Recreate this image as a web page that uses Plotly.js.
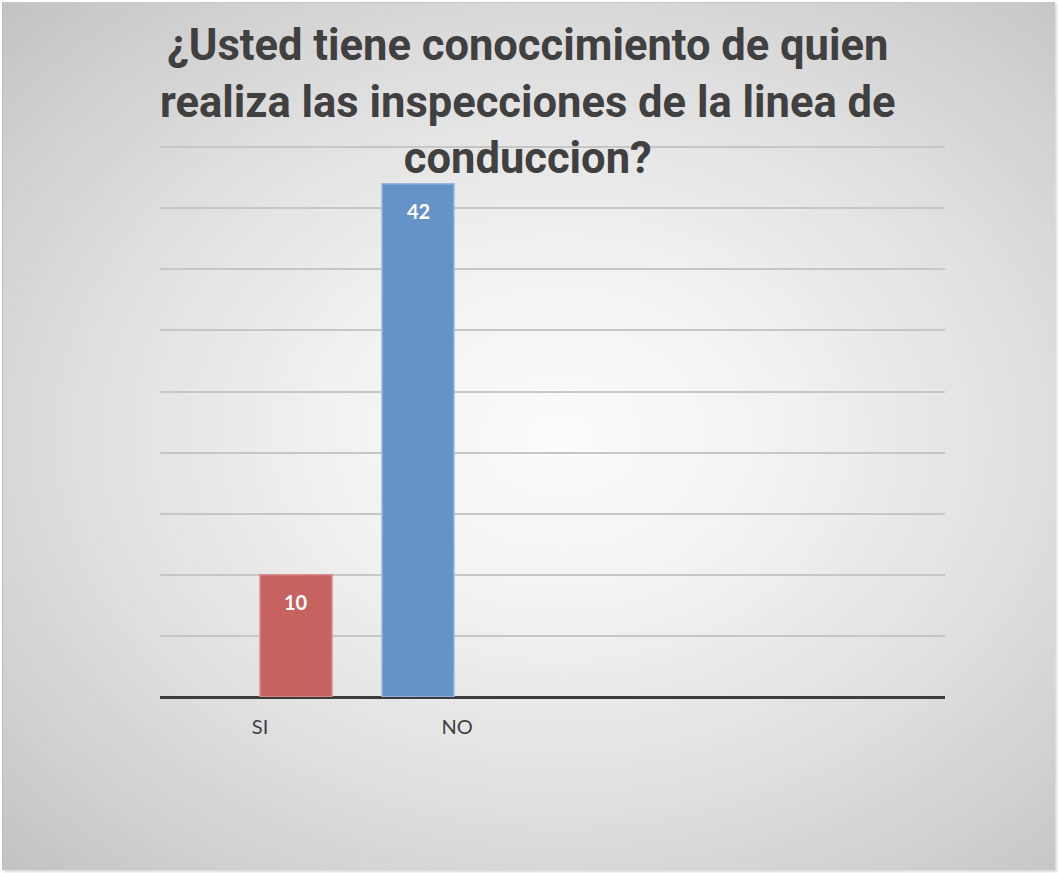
<!DOCTYPE html>
<html>
<head>
<meta charset="utf-8">
<script src="https://cdn.plot.ly/plotly-3.0.1.min.js"></script>
<style>
  html, body { margin: 0; padding: 0; width: 1058px; height: 873px; overflow: hidden; background: #ffffff; }
  #frame {
    position: absolute; left: 2px; top: 2px; width: 1052px; height: 867px;
    border-left: 1px solid #bdbdbd; border-top: 1px solid #c8c8c8;
    box-shadow: 2px 2px 2px rgba(0,0,0,0.15);
    background: radial-gradient(ellipse farthest-corner at 53% 50%, #fcfcfc 0%, #f1f1f1 30%, #dedede 62%, #c3c3c3 100%);
  }
  #chart { position: absolute; left: 0; top: 0; width: 1058px; height: 873px; }
</style>
</head>
<body>
<div id="frame"></div>
<div id="chart"></div>
<script>
const categories = ['SI', 'NO'];
const values = [10, 42];
const barColors = ['rgb(198,98,95)', 'rgb(101,147,200)'];
const barLines = ['rgb(214,140,138)', 'rgb(150,183,222)'];
const titleText = '¿Usted tiene conoccimiento de quien<br>realiza las inspecciones de la linea de<br>conduccion?';

const xPos = categories.map((c, i) => i + 1);
const labelOffsets = [-0.295, 0.32];
const tickPos = xPos.map((x, i) => x + labelOffsets[i]);

const traces = categories.map((c, i) => ({
  type: 'bar',
  x: [xPos[i]],
  y: [values[i]],
  width: 0.59,
  name: c,
  marker: { color: barColors[i], line: { color: barLines[i], width: 1.5 } },
  hoverinfo: 'x+y'
}));

const valueLabels = categories.map((c, i) => ({
  x: xPos[i], y: values[i], xref: 'x', yref: 'y',
  text: '<b>' + values[i] + '</b>',
  showarrow: false,
  xanchor: 'center', yanchor: 'middle',
  yshift: -27,
  font: { family: 'Lato, "Open Sans", sans-serif', size: 20, color: '#ffffff' }
}));

const titleAnn = {
  text: '<b>' + titleText + '</b>',
  xref: 'paper', yref: 'paper',
  x: 0.469, y: 0.927,
  xanchor: 'center', yanchor: 'bottom',
  showarrow: false,
  align: 'center',
  font: { family: 'Roboto, Lato, sans-serif', size: 43.5, color: '#404040' }
};

const layout = {
  width: 1058,
  height: 873,
  paper_bgcolor: 'rgba(0,0,0,0)',
  plot_bgcolor: 'rgba(0,0,0,0)',
  margin: { l: 160, r: 113, t: 146, b: 176 },
  showlegend: false,
  bargap: 0,
  annotations: [titleAnn].concat(valueLabels),
  xaxis: {
    range: [-0.115, 6.32],
    tickvals: tickPos,
    ticktext: categories,
    showgrid: false,
    zeroline: false,
    showline: false,
    ticks: '',
    tickfont: { family: 'Lato, "Open Sans", sans-serif', size: 20, color: '#404040' },
    ticklabelstandoff: 16
  },
  yaxis: {
    range: [0, 45.1],
    dtick: 5,
    showticklabels: false,
    showgrid: true,
    gridcolor: '#c6c6c6',
    gridwidth: 2,
    zeroline: true,
    zerolinecolor: '#3c3c3c',
    zerolinewidth: 3,
    showline: false,
    ticks: ''
  }
};

Plotly.newPlot('chart', traces, layout, { displayModeBar: false, staticPlot: true });
</script>
</body>
</html>
